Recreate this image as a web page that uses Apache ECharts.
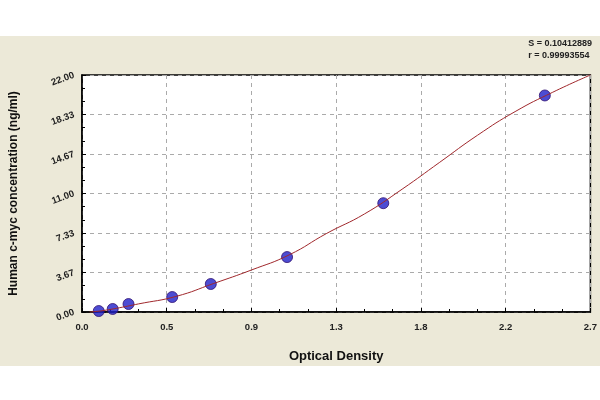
<!DOCTYPE html>
<html><head><meta charset="utf-8">
<script src="https://cdn.jsdelivr.net/npm/echarts@6/dist/echarts.min.js"></script>
<style>html,body{margin:0;background:#fff}#c{width:600px;height:400px}</style></head>
<body><div id="c"></div>
<script>
const pointsX = [0.089, 0.163, 0.247, 0.479, 0.684, 1.089, 1.6, 2.458];
const pointsY = [0.09, 0.28, 0.74, 1.39, 2.6, 5.1, 10.1, 20.1];
const curveX = [0.04, 0.1, 0.2, 0.3, 0.5, 0.7, 0.9, 1.1, 1.3, 1.5, 1.7, 1.9, 2.1, 2.3, 2.5, 2.7];
const curveY = [0.0, 0.1, 0.4, 0.75, 1.45, 2.65, 3.9, 5.3, 7.3, 9.1, 11.4, 13.9, 16.4, 18.6, 20.4, 22.0];
const yLabels = ['0.00','3.67','7.33','11.00','14.67','18.33','22.00'];
const xLabels = ['0.0','0.5','0.9','1.3','1.8','2.2','2.7'];
const chart = echarts.init(document.getElementById('c'));
chart.setOption({
  backgroundColor: '#fff',
  graphic: [{type:'rect', z:-10, shape:{x:0,y:36,width:600,height:330}, style:{fill:'#ece9d8'}},
    {type:'text', right:8, top:38, style:{text:'S = 0.10412889\nr = 0.99993554', fill:'#222', font:'bold 9px Arial', align:'right', lineHeight:12}}],
  grid: {left:80, right:7, top:75, bottom:88, show:true, backgroundColor:'#fff', borderColor:'#000', borderWidth:1.5},
  xAxis: {type:'value', min:0, max:2.7, interval:0.45,
    name:'Optical Density', nameLocation:'middle', nameGap:38, nameTextStyle:{fontWeight:'bold', fontSize:13, color:'#111', fontFamily:'Arial'},
    axisLine:{lineStyle:{color:'#000', width:1.5}}, axisTick:{inside:true, length:4, lineStyle:{color:'#000'}},
    minorTick:{show:true, splitNumber:3, length:3, lineStyle:{color:'#000'}},
    axisLabel:{color:'#222', fontSize:9.5, fontWeight:'bold', margin:10, formatter:(v,i)=>xLabels[i]},
    splitLine:{show:true, lineStyle:{color:'#aaa', type:[4,4]}}},
  yAxis: {type:'value', min:0, max:22, interval:22/6,
    name:'Human c-myc concentration (ng/ml)', nameLocation:'middle', nameGap:62, nameTextStyle:{fontWeight:'bold', fontSize:12, color:'#111', fontFamily:'Arial'},
    axisLine:{lineStyle:{color:'#000', width:1.5}}, axisTick:{inside:true, length:4, lineStyle:{color:'#000'}},
    minorTick:{show:true, splitNumber:3, length:3, lineStyle:{color:'#000'}},
    axisLabel:{color:'#222', fontSize:9.5, fontWeight:'bold', rotate:20, formatter:(v,i)=>yLabels[i]},
    splitLine:{show:true, lineStyle:{color:'#aaa', type:[4,4]}}},
  series: [
    {type:'line', data:curveX.map((x,i)=>[x,curveY[i]]), smooth:0.5, symbol:'none', lineStyle:{color:'#a0282c', width:1}, silent:true},
    {type:'scatter', data:pointsX.map((x,i)=>[x,pointsY[i]]), symbolSize:11, itemStyle:{color:'#1f1fc8', borderColor:'#301070', borderWidth:1}}
  ]
});
</script></body></html>
